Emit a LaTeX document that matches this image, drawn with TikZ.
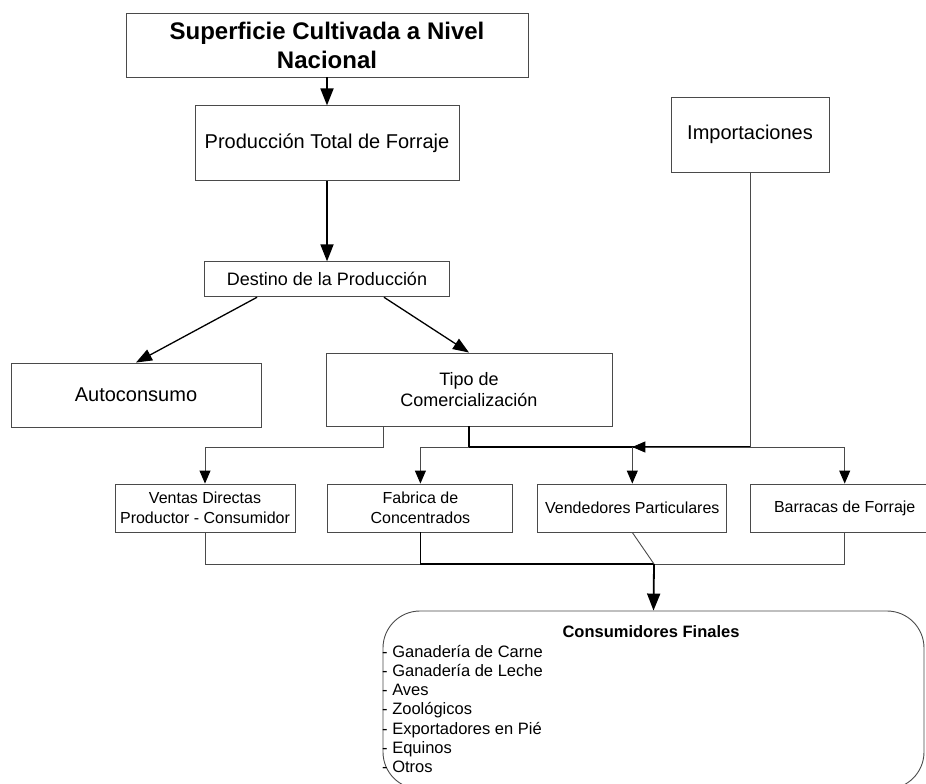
\documentclass[tikz,border=0pt]{standalone}
\usepackage{fontspec}
\setmainfont{Liberation Sans}
\usetikzlibrary{positioning, arrows.meta}
\definecolor{lnk}{HTML}{4A4A4A}

\begin{document}
\begin{tikzpicture}[x=1pt, y=-1pt,
        b/.style={draw=lnk, line width=0.9pt, align=center, inner sep=2pt},
        conn/.style={draw=lnk, line width=0.9pt},
        bus/.style={draw=black, line width=1.8pt},
        tip/.style={-{Triangle[length=13pt, width=11pt, color=black]}},
        big/.style={-{Triangle[length=17pt, width=13pt]}, line width=1.8pt},
        mid/.style={-{Triangle[length=16pt, width=12pt]}, line width=1.3pt}]
      \useasboundingbox (0,0) rectangle (926,784);
      \node[b, minimum width=402pt, minimum height=64pt, font=\fontsize{24}{29}\selectfont\bfseries] (sup) at (327,45) {Superficie Cultivada a Nivel\\Nacional};
      \node[b, below=28pt of sup, minimum width=264pt, minimum height=75pt, font=\fontsize{20}{24}\selectfont] (prod) {Producción Total de Forraje};
      \node[b, below=80pt of prod, minimum width=245pt, minimum height=35pt, font=\fontsize{18}{21.6}\selectfont] (dest) {Destino de la Producción};
      \node[b, minimum width=158pt, minimum height=75pt, font=\fontsize{20}{24}\selectfont] (imp) at (750,134.5) {Importaciones};
      \node[b, minimum width=250pt, minimum height=64pt, font=\fontsize{20}{24}\selectfont] (auto) at (136,395) {Autoconsumo};
      \node[b, minimum width=286pt, minimum height=73pt, font=\fontsize{18}{21.6}\selectfont] (tipo) at (469,389.5) {Tipo de\\Comercialización};
      % fila de canales
      \node[b, minimum width=180pt, minimum height=48pt, font=\fontsize{16}{20}\selectfont] (ventas) at (205,508) {Ventas Directas\\Productor - Consumidor};
      \node[b, right=32pt of ventas, minimum width=185pt, minimum height=48pt, font=\fontsize{16}{20}\selectfont] (fab) {Fabrica de\\Concentrados};
      \node[b, right=24pt of fab, minimum width=189pt, minimum height=48pt, font=\fontsize{16}{20}\selectfont] (vend) {Vendedores Particulares};
      \node[b, right=23pt of vend, minimum width=188pt, minimum height=48pt, font=\fontsize{16}{20}\selectfont] (barr) {Barracas de Forraje};
      % consumidores
      \node[draw=lnk, line width=0.9pt, rounded corners=37pt, minimum width=541pt, minimum height=178pt] (cons) at (653.5,700) {};
      \node[font=\fontsize{16.5}{20}\selectfont\bfseries] (constit) at (651,632) {Consumidores Finales};
      \node[anchor=north west, align=left, inner sep=0pt, font=\fontsize{16.5}{19.2}\selectfont] (conslist) at (382,645) {- Ganadería de Carne\\- Ganadería de Leche\\- Aves\\- Zoológicos\\- Exportadores en Pié\\- Equinos\\- Otros};
      \coordinate (split) at (469,447);
      \coordinate (dl) at (383,426);
      \coordinate (merge) at (654,564);
      \draw[big] (sup) -- (prod);
      \draw[big] (prod) -- (dest);
      \draw[mid] ([xshift=53pt]dest.south west) -- (auto.north);
      \draw[mid] ([xshift=-66pt]dest.south east) -- (tipo.north);
      \draw[conn, tip] (dl) -- (dl |- split) -| (ventas.north);
      \draw[bus] (tipo.south) -- (split);
      \draw[conn, tip] (split) -| (fab.north);
      \draw[bus] (split) -- (imp.south |- split);
      \draw[conn, tip] (imp.south) |- (vend.north |- split);
      \draw[conn, tip] (vend.north |- split) -- (vend.north);
      \draw[conn, tip] (imp.south |- split) -| (barr.north);
      \draw[conn] (ventas.south) |- (fab.south |- merge);
      \draw[bus] (fab.south) |- (merge);
      \draw[conn] (vend.south) -- (merge);
      \draw[conn] (barr.south) |- (merge);
      \draw[big, line width=1.8pt] (merge) -- (cons.north);
    \end{tikzpicture}
\end{document}
